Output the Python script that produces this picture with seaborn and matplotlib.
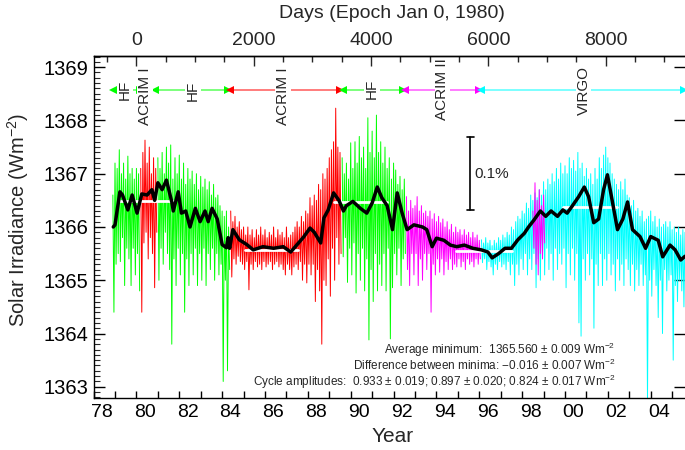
import numpy as np
import matplotlib
matplotlib.use("Agg")
import matplotlib.pyplot as plt
import matplotlib.transforms as mtransforms
from matplotlib.ticker import MultipleLocator, FuncFormatter, FixedLocator
import seaborn as sns

# ---- daily composite, read as upper / lower excursions every 0.1 yr ----
hf1_start = 1978.9
hf1_hi = [1366.6, 1367.2, 1367.1, 1367.45, 1367.0, 1367.2, 1366.9, 1367.33, 1367.0, 1367.1, 1366.9, 1367.1, 1367.0]
hf1_lo = [1364.4, 1365.3, 1365.5, 1365.35, 1365.8, 1364.9, 1365.6, 1365.4, 1364.9, 1365.6, 1365.1, 1365.5, 1364.8]

acrim1a_start = 1980.2
acrim1a_hi = [1367.1, 1367.4, 1367.63, 1367.2, 1367.5, 1367.0, 1367.3, 1367.1]
acrim1a_lo = [1364.4, 1365.7, 1365.9, 1365.4, 1365.8, 1365.5, 1364.86, 1365.9]

hf2_start = 1981.0
hf2_hi = [1367.3, 1367.1, 1367.4, 1367.0, 1367.5, 1367.2, 1367.54, 1366.9, 1367.3, 1367.0,
          1367.35, 1366.9, 1367.2, 1366.8, 1367.1, 1366.9, 1367.05, 1366.8, 1367.0, 1366.7,
          1366.95, 1366.75, 1366.9, 1366.7, 1366.85, 1366.6, 1366.8, 1366.55, 1366.6, 1366.4,
          1366.3, 1366.2, 1366.3, 1366.0]
hf2_lo = [1365.0, 1365.6, 1365.3, 1365.9, 1365.5, 1365.2, 1363.8, 1365.4, 1364.9, 1365.6,
          1365.1, 1365.5, 1364.4, 1365.4, 1364.9, 1365.5, 1365.1, 1365.6, 1364.9, 1365.5,
          1365.0, 1365.6, 1364.9, 1365.5, 1365.2, 1365.6, 1365.0, 1365.5, 1365.1, 1365.3,
          1363.1, 1365.0, 1363.3, 1365.2]

acrim1_start = 1984.4
acrim1_hi = [1366.3, 1366.1, 1366.2, 1366.0, 1366.1, 1365.95, 1366.0, 1365.85, 1366.0, 1365.85,
             1365.95, 1365.8, 1365.95, 1365.85, 1366.0, 1365.85, 1365.95, 1365.8, 1365.9, 1365.85,
             1366.0, 1365.8, 1365.95, 1365.85, 1365.9, 1365.8, 1366.0, 1365.8, 1365.85, 1365.9,
             1366.0, 1366.1, 1366.0, 1366.2, 1366.1, 1366.3, 1366.25, 1366.55, 1366.4, 1366.6,
             1366.5, 1366.8, 1366.7, 1367.0, 1366.9, 1367.1, 1367.3, 1367.45, 1367.6, 1368.23,
             1367.5, 1367.4]
acrim1_lo = [1365.06, 1365.4, 1365.3, 1365.45, 1365.35, 1365.3, 1365.2, 1365.35, 1364.82, 1365.3,
             1365.2, 1365.35, 1365.25, 1365.3, 1365.2, 1365.35, 1365.25, 1365.3, 1365.35, 1365.2,
             1365.3, 1365.35, 1365.25, 1365.3, 1365.2, 1365.1, 1365.3, 1365.2, 1365.1, 1365.25,
             1365.3, 1365.2, 1365.35, 1365.0, 1365.3, 1364.95, 1365.3, 1365.1, 1365.3, 1364.6,
             1365.2, 1364.8, 1363.8, 1365.0, 1364.9, 1365.4, 1364.7, 1365.6, 1365.0, 1365.8,
             1365.3, 1365.5]

hf3_start = 1989.6
hf3_hi = [1367.3, 1367.0, 1367.2, 1366.9, 1367.58, 1367.1, 1367.6, 1367.2, 1367.7, 1367.3,
          1367.5, 1367.1, 1368.05, 1367.4, 1367.8, 1367.3, 1368.1, 1367.4, 1367.6, 1367.2,
          1367.5, 1367.1, 1367.3, 1366.9, 1367.2, 1367.07, 1366.8, 1366.95, 1366.7, 1366.9]
hf3_lo = [1365.44, 1365.8, 1364.96, 1365.6, 1365.1, 1365.7, 1364.76, 1365.5, 1365.0, 1365.6,
          1364.8, 1365.4, 1363.88, 1365.2, 1364.6, 1365.5, 1364.8, 1365.3, 1364.9, 1365.5,
          1364.8, 1365.6, 1363.9, 1364.86, 1365.5, 1365.1, 1365.6, 1364.9, 1365.4, 1365.5]

acrim2_start = 1992.6
acrim2_hi = [1366.57, 1366.3, 1366.5, 1366.35, 1366.4, 1366.57, 1366.3, 1366.4, 1366.26, 1366.3,
             1366.2, 1366.3, 1366.15, 1366.25, 1366.1, 1366.2, 1366.08, 1366.15, 1366.0, 1366.1,
             1365.95, 1366.05, 1365.9, 1366.0, 1365.9, 1365.95, 1365.85, 1365.95, 1365.85, 1365.9,
             1365.8, 1365.9, 1365.8, 1365.85, 1365.75]
acrim2_lo = [1365.2, 1364.9, 1365.5, 1365.1, 1365.5, 1364.9, 1365.4, 1365.0, 1365.5, 1365.2,
             1365.5, 1364.4, 1365.3, 1365.1, 1365.4, 1365.15, 1365.4, 1365.1, 1365.35, 1365.2,
             1365.4, 1365.2, 1365.3, 1365.25, 1365.4, 1365.25, 1365.35, 1365.2, 1365.4, 1365.3,
             1365.35, 1365.25, 1365.4, 1365.3, 1365.4]

virgo_start = 1996.1
virgo_hi = [1365.76, 1365.7, 1365.8, 1365.7, 1365.75, 1365.65, 1365.75, 1365.7, 1365.8, 1365.75,
            1365.85, 1365.8, 1365.9, 1365.85, 1366.0, 1365.95, 1366.1, 1366.2, 1366.15, 1366.3,
            1366.25, 1366.45, 1366.35, 1366.6, 1366.5, 1366.64, 1366.55, 1366.7, 1366.6, 1366.85,
            1366.7, 1366.9, 1366.8, 1367.0, 1366.85, 1367.1, 1366.9, 1367.2, 1367.0, 1367.15,
            1367.0, 1367.3, 1367.1, 1367.25, 1367.05, 1367.4, 1367.1, 1367.2, 1366.95, 1367.1,
            1366.9, 1367.0, 1366.8, 1367.1, 1366.9, 1367.3, 1367.1, 1367.35, 1367.5, 1367.3,
            1367.2, 1367.0, 1366.9, 1366.8, 1366.7, 1366.85, 1366.7, 1366.9, 1366.6, 1366.55,
            1366.4, 1366.5, 1366.3, 1366.35, 1366.2, 1366.3, 1366.1, 1366.15, 1366.2, 1366.3,
            1366.1, 1366.2, 1366.0, 1366.15, 1366.0, 1366.05, 1366.1, 1366.0, 1366.1, 1365.95,
            1366.0, 1365.9, 1366.0, 1365.85, 1365.95, 1365.9]
virgo_lo = [1365.33, 1365.4, 1365.2, 1365.35, 1365.25, 1365.1, 1365.3, 1365.2, 1365.35, 1365.25,
            1365.3, 1365.2, 1365.35, 1365.1, 1365.3, 1364.9, 1365.3, 1365.1, 1365.4, 1365.2,
            1365.5, 1365.1, 1365.4, 1365.2, 1365.5, 1364.86, 1365.4, 1365.0, 1365.5, 1365.1,
            1365.6, 1365.2, 1365.5, 1365.0, 1365.6, 1365.2, 1365.5, 1365.3, 1365.6, 1364.86,
            1365.5, 1365.1, 1365.6, 1365.0, 1365.5, 1364.2, 1363.95, 1365.4, 1365.0, 1365.5,
            1365.1, 1365.4, 1364.1, 1365.3, 1364.9, 1365.5, 1364.9, 1365.4, 1365.0, 1365.5,
            1365.1, 1365.3, 1364.8, 1365.4, 1365.0, 1365.3, 1364.9, 1365.4, 1365.2, 1364.9,
            1365.3, 1364.8, 1365.2, 1364.9, 1365.3, 1364.9, 1365.1, 1362.7, 1365.0, 1364.7,
            1365.2, 1364.9, 1364.3, 1365.0, 1364.0, 1365.2, 1364.8, 1365.0, 1365.1, 1363.5,
            1364.9, 1364.6, 1365.0, 1364.8, 1364.5, 1365.0]

gapfill_start = 1998.5
gapfill_hi = [1366.3, 1366.83, 1366.5, 1366.7, 1366.4, 1366.6]
gapfill_lo = [1365.6, 1365.3, 1365.1, 1365.5, 1365.4, 1365.7]

# 81-day running mean (black)
smooth_years = [1978.92, 1979.0, 1979.23, 1979.35, 1979.6, 1979.8, 1980.03, 1980.25, 1980.5, 1980.72,
                1980.85, 1981.0, 1981.2, 1981.4, 1981.65, 1981.72, 1981.95, 1982.1, 1982.3, 1982.5,
                1982.75, 1982.97, 1983.2, 1983.35, 1983.53, 1983.77, 1984.0, 1984.2, 1984.28, 1984.35,
                1984.5, 1984.8, 1985.15, 1985.45, 1985.9, 1986.4, 1986.85, 1987.2, 1987.5, 1987.8,
                1988.1, 1988.3, 1988.6, 1988.75, 1988.95, 1989.2, 1989.45, 1989.66, 1989.8, 1990.1,
                1990.45, 1990.75, 1991.0, 1991.24, 1991.45, 1991.7, 1991.95, 1992.17, 1992.4, 1992.63,
                1992.95, 1993.35, 1993.55, 1993.8, 1994.0, 1994.35, 1994.65, 1994.95, 1995.3, 1995.7,
                1996.1, 1996.4, 1996.6, 1996.9, 1997.2, 1997.5, 1997.8, 1998.1, 1998.3, 1998.55,
                1998.85, 1999.1, 1999.35, 1999.65, 1999.9, 2000.1, 2000.35, 2000.64, 2000.9, 2001.1,
                2001.34, 2001.57, 2001.8, 2001.98, 2002.2, 2002.45, 2002.7, 2002.92, 2003.15, 2003.5,
                2003.76, 2004.0, 2004.35, 2004.56, 2004.9, 2005.14, 2005.4, 2005.6]
smooth_vals = [1366.0, 1366.04, 1366.66, 1366.6, 1366.32, 1366.6, 1366.26, 1366.62, 1366.6, 1366.7,
               1366.5, 1366.83, 1366.7, 1366.88, 1366.47, 1366.3, 1366.66, 1366.26, 1366.3, 1366.0,
               1366.35, 1366.1, 1366.3, 1366.1, 1366.35, 1366.15, 1365.67, 1365.61, 1365.8, 1365.6,
               1365.95, 1365.76, 1365.67, 1365.57, 1365.63, 1365.6, 1365.63, 1365.53, 1365.67, 1365.81,
               1365.98, 1365.9, 1365.7, 1366.17, 1366.32, 1366.64, 1366.5, 1366.3, 1366.4, 1366.48,
               1366.35, 1366.26, 1366.45, 1366.75, 1366.55, 1366.4, 1365.95, 1366.64, 1366.26, 1365.95,
               1366.04, 1366.0, 1365.95, 1365.63, 1365.79, 1365.75, 1365.66, 1365.63, 1365.66, 1365.6,
               1365.57, 1365.53, 1365.42, 1365.5, 1365.6, 1365.6, 1365.76, 1365.88, 1366.0, 1366.13,
               1366.3, 1366.2, 1366.3, 1366.2, 1366.32, 1366.26, 1366.4, 1366.57, 1366.75, 1366.57,
               1366.08, 1366.15, 1366.7, 1366.98, 1366.5, 1365.95, 1366.15, 1366.47, 1365.95, 1365.82,
               1365.6, 1365.82, 1365.75, 1365.44, 1365.66, 1365.57, 1365.38, 1365.45]

# maximum / minimum levels (white)
level_start = [1979.23, 1985.07, 1989.2, 1994.9, 1999.9]
level_end = [1981.7, 1987.55, 1991.7, 1997.55, 2002.45]
level_vals = [1366.49, 1365.57, 1366.47, 1365.54, 1366.38]

# instrument bars on top
arrow_start = [1978.91, 1980.87, 1984.37, 1989.65, 1992.55, 1996.10]
arrow_end = [1980.17, 1984.28, 1989.51, 1992.46, 1996.01, 2005.54]
arrow_line = ["#66ff66", "#66ff66", "#ff6666", "#66ff66", "#ff66ff", "#66ffff"]
arrow_head = ["#00ff00", "#00ff00", "#ff0000", "#00ff00", "#ff00ff", "#00ffff"]
arrow_level = 1368.57
inst_labels = ["HF", "ACRIM I", "HF", "ACRIM I", "HF", "ACRIM II", "VIRGO"]
inst_x = [1979.47, 1980.40, 1982.64, 1986.85, 1991.0, 1994.28, 2000.87]
inst_y = [1368.58, 1368.45, 1368.55, 1368.45, 1368.6, 1368.58, 1368.56]

stats_lines = [
    "Average minimum:  1365.560 \u00b1 0.009 Wm$^{-2}$",
    "Difference between minima: \u22120.016 \u00b1 0.007 Wm$^{-2}$",
    "Cycle amplitudes:  0.933 \u00b1 0.019; 0.897 \u00b1 0.020; 0.824 \u00b1 0.017 Wm$^{-2}$",
]
stats_y = [1363.70, 1363.41, 1363.09]

segments = [
    (hf1_start, hf1_hi, hf1_lo, "#00ff00"),
    (acrim1a_start, acrim1a_hi, acrim1a_lo, "#ff0000"),
    (hf2_start, hf2_hi, hf2_lo, "#00ff00"),
    (acrim1_start, acrim1_hi, acrim1_lo, "#ff0000"),
    (hf3_start, hf3_hi, hf3_lo, "#00ff00"),
    (acrim2_start, acrim2_hi, acrim2_lo, "#ff00ff"),
    (virgo_start, virgo_hi, virgo_lo, "#00ffff"),
    (gapfill_start, gapfill_hi, gapfill_lo, "#ff00ff"),
]

sns.set_theme(style="ticks")
plt.rcParams["font.family"] = ["Liberation Sans", "DejaVu Sans"]
plt.rcParams["mathtext.fontset"] = "custom"
plt.rcParams["mathtext.rm"] = "Liberation Sans"
plt.rcParams["mathtext.default"] = "regular"
plt.rcParams["axes.linewidth"] = 1.0

fig = plt.figure(figsize=(6.85, 4.5), dpi=100)
ax = fig.add_axes([0.1366, 0.1156, 0.8634, 0.76])

for start, hi, lo, col in segments:
    yrs = start + 0.1 * np.arange(len(hi))
    xs = np.column_stack([yrs, yrs + 0.05]).ravel()
    ys = np.column_stack([hi, lo]).ravel()
    sns.lineplot(x=xs, y=ys, ax=ax, color=col, lw=0.7, estimator=None, sort=False, legend=False)

for x0, x1, v in zip(level_start, level_end, level_vals):
    ax.plot([x0, x1], [v, v], color="white", lw=2, zorder=4)

sns.lineplot(x=smooth_years, y=smooth_vals, ax=ax, color="black", lw=2.5,
             estimator=None, sort=False, legend=False, zorder=5)

for x0, x1, lc, hc in zip(arrow_start, arrow_end, arrow_line, arrow_head):
    ax.plot([x0, x1], [arrow_level, arrow_level], color=lc, lw=1.2, zorder=3)
    ax.plot([x0], [arrow_level], marker="<", color=hc, ms=6, mew=0, zorder=3)
    ax.plot([x1], [arrow_level], marker=">", color=hc, ms=6, mew=0, zorder=3)

for txt, x, y in zip(inst_labels, inst_x, inst_y):
    ax.text(x, y, txt, rotation=90, ha="center", va="center", fontsize=11,
            bbox=dict(facecolor="white", edgecolor="none", pad=0.5), zorder=6)

# 0.1% scale bar
bar_x, bar_lo, bar_hi = 1995.59, 1366.32, 1367.69
ax.plot([bar_x, bar_x], [bar_lo, bar_hi], color="black", lw=1.2)
ax.plot([bar_x - 0.15, bar_x + 0.15], [bar_lo, bar_lo], color="black", lw=1.2)
ax.plot([bar_x - 0.15, bar_x + 0.15], [bar_hi, bar_hi], color="black", lw=1.2)
ax.text(bar_x + 0.2, 1367.0, "0.1%", ha="left", va="center", fontsize=11)

for txt, y in zip(stats_lines, stats_y):
    ax.text(2002.36, y, txt, ha="right", va="center", fontsize=8.5)

ax.set_xlim(1978.0, 2005.6)
ax.set_ylim(1362.79, 1369.21)

ax.xaxis.set_major_locator(MultipleLocator(2))
ax.xaxis.set_minor_locator(MultipleLocator(1))
ax.xaxis.set_major_formatter(FuncFormatter(lambda v, p: f"{int(round(v)) % 100:02d}"))
ax.yaxis.set_major_locator(MultipleLocator(1))
ax.yaxis.set_minor_locator(MultipleLocator(0.1))
ax.yaxis.set_major_formatter(FuncFormatter(lambda v, p: f"{int(round(v))}"))

ax.tick_params(axis="x", which="both", direction="in", top=False, bottom=True,
               length=5, width=1, labelsize=14, pad=4, colors="black")
ax.tick_params(axis="y", which="major", direction="in", left=True, right=True,
               length=8, width=1, labelsize=14.5, pad=4, colors="black")
ax.tick_params(axis="y", which="minor", direction="in", left=True, right=False,
               length=4, width=0.8)

shift = mtransforms.ScaledTranslation(8.4 / 100, 0, fig.dpi_scale_trans)
for lab in ax.get_xticklabels():
    lab.set_transform(lab.get_transform() + shift)

for s in ax.spines.values():
    s.set_color("black")
ax.spines["right"].set_visible(False)

secax = ax.secondary_xaxis("top", functions=(lambda y: (y - 1980.0) * 365.25,
                                              lambda d: 1980.0 + d / 365.25))
secax.xaxis.set_major_locator(FixedLocator([0, 2000, 4000, 6000, 8000]))
secax.xaxis.set_minor_locator(MultipleLocator(500))
secax.xaxis.set_major_formatter(FuncFormatter(lambda v, p: f"{int(round(v))}"))
secax.tick_params(which="major", direction="in", length=7, width=1, labelsize=14, pad=5)
secax.tick_params(which="minor", direction="in", length=4, width=1)
secax.spines["top"].set_color("black")

ax.set_xlabel("Year", fontsize=15)
ax.xaxis.set_label_coords(0.506, -0.085)
ax.set_ylabel("Solar Irradiance (Wm$^{-2}$)", fontsize=14.5)
ax.yaxis.set_label_coords(-0.105, 0.52)
fig.text(392 / 685, 1 - 14 / 450, "Days (Epoch Jan 0, 1980)", ha="center", va="center", fontsize=14)

fig.savefig("out.png", dpi=100)
